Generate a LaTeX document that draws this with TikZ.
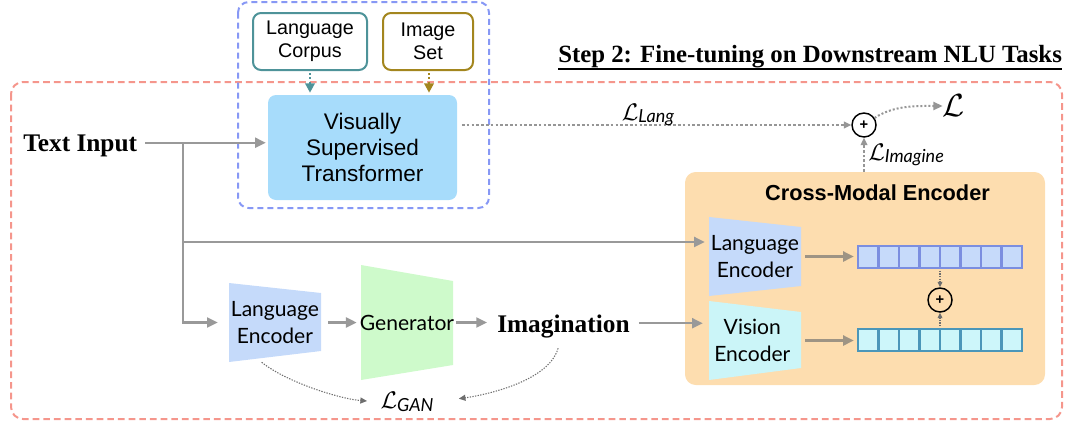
\RequirePackage{fix-cm}
\documentclass[tikz,border=0pt]{standalone}
\usepackage{fontspec}
\setmainfont{Liberation Serif}
\newfontfamily\hv{Liberation Sans}
\newfontfamily\lt{Lato}
\usetikzlibrary{arrows.meta}

\definecolor{redd}{RGB}{245,150,140}
\definecolor{blued}{RGB}{135,152,245}
\definecolor{tealc}{RGB}{78,147,153}
\definecolor{goldc}{RGB}{163,134,30}
\definecolor{vstfill}{RGB}{167,220,251}
\definecolor{cmfill}{RGB}{253,221,175}
\definecolor{lefill}{RGB}{197,218,250}
\definecolor{vefill}{RGB}{203,245,248}
\definecolor{genfill}{RGB}{206,250,203}
\definecolor{arrgray}{RGB}{153,153,153}
\definecolor{arrbrown}{RGB}{158,148,132}
\definecolor{rowLs}{RGB}{123,142,224}
\definecolor{rowLf}{RGB}{198,218,250}
\definecolor{rowVs}{RGB}{75,150,185}
\definecolor{rowVf}{RGB}{205,246,250}
\definecolor{dotgray}{RGB}{150,150,150}
\definecolor{dotdark}{RGB}{110,110,110}

\newcommand\thickul[1]{\leavevmode\setbox0=\hbox{#1}\rlap{\copy0}\raisebox{-6pt}{\rule{\wd0}{1.2pt}}}

\begin{document}
\begin{tikzpicture}[x=0.75pt,y=-0.75pt,
  reddash/.style={draw=redd, line width=1.5pt, dash pattern=on 5pt off 3pt, rounded corners=9pt},
  bluedash/.style={draw=blued, line width=1.5pt, dash pattern=on 4.5pt off 3pt, rounded corners=8pt},
  srcbox/.style={draw, fill=white, line width=1.5pt, rounded corners=6pt, font=\hv\fontsize{14.8}{17.25}\selectfont, align=center, inner sep=0},
  vstbox/.style={fill=vstfill, rounded corners=6pt, font=\hv\fontsize{16.9}{19.5}\selectfont, align=center, inner sep=0},
  enc/.style={font=\lt\fontsize{15.8}{20.6}\selectfont, align=center, inner sep=0},
  serifb/.style={font=\fontsize{19}{22}\selectfont\bfseries, inner sep=0, text depth=0pt},
  plus/.style={circle, draw=black, line width=1.1pt, minimum size=18pt, inner sep=0, font=\hv\bfseries\fontsize{11}{11}\selectfont},
  garrow/.style={draw=arrgray, line width=1.6pt, -{Triangle[length=8pt,width=7.5pt]}},
  barrow/.style={draw=arrbrown, line width=1.6pt, -{Triangle[length=8pt,width=7.5pt]}},
  srcarrow/.style={line width=2pt, dash pattern=on 1.6pt off 1.6pt, -{Triangle[length=7pt,width=7pt]}},
  dotline/.style={draw=dotgray, line width=1pt, dash pattern=on 2pt off 1.6pt, -{Triangle[length=5.5pt,width=5pt]}},
  dotcurve/.style={draw=dotgray, line width=1.5pt, dash pattern=on 1.5pt off 1.5pt, -{Triangle[length=7pt,width=6pt]}},
  gancurve/.style={draw=dotdark, line width=0.8pt, dash pattern=on 1pt off 1pt, -{Triangle[length=5pt,width=4.5pt]}},
  smalldot/.style={draw=dotdark, line width=0.8pt, dash pattern=on 1pt off 1pt, -{Triangle[length=4pt,width=3.5pt]}},
  losslab/.style={inner sep=0}
]
\useasboundingbox (0,0) rectangle (1073,425);

% frames
\draw[reddash] (11,82) rectangle (1062,419);
\draw[bluedash] (238,2) rectangle (489,208);

% title
\node[font=\fontsize{18.6}{22}\selectfont\bfseries, anchor=base west, inner sep=0] (title) at (558,62) {\thickul{Step 2: Fine-tuning on Downstream NLU Tasks}};

% pretraining sources
\node[srcbox, draw=tealc, minimum width=85.5pt, minimum height=42.75pt] (LC) at (310,41.5) {Language\\Corpus};
\node[srcbox, draw=goldc, minimum width=67.5pt, minimum height=42.75pt] (IS) at (428,41.5) {Image\\Set};
\node[vstbox, minimum width=141.75pt, minimum height=78.75pt] (VST) at (362.5,147.5) {Visually\\Supervised\\Transformer};
\draw[srcarrow, draw=tealc, tealc, shorten <=1.5pt, shorten >=1.5pt] (LC.south) -- (LC.south |- VST.north);
\draw[srcarrow, draw=goldc, goldc, shorten <=1.5pt, shorten >=1.5pt] ([xshift=0.75pt]IS.south) -- ([xshift=0.75pt]IS.south |- VST.north);

% text input
\node[serifb, anchor=base west] (tin) at (23,151) {Text Input};
\draw[garrow, shorten <=6pt, shorten >=1.5pt] (tin.east) -- (tin.east -| VST.west);
\coordinate (brx) at (183,0);
\coordinate (br) at (brx |- tin.east);

% cross-modal encoder
\node[fill=cmfill, rounded corners=8pt, minimum width=270pt, minimum height=159.75pt, inner sep=0] (cme) at (865,278.5) {};
\node[font=\hv\bfseries\fontsize{16.3}{19}\selectfont, inner sep=0] (cmt) at (877.5,193) {Cross-Modal Encoder};

% trapezoid shapes
\fill[lefill] (229,283) -- (321,293) -- (321,351) -- (229,362) -- cycle;
\fill[genfill] (361,265) -- (453,281) -- (453,365) -- (361,380) -- cycle;
\fill[lefill] (709,217) -- (801,227) -- (801,286) -- (709,296) -- cycle;
\fill[vefill] (709,301) -- (801,312) -- (801,368) -- (709,380) -- cycle;

\node[enc, minimum width=69pt, minimum height=59.25pt] (LE) at (275,322.5) {Language\\Encoder};
\node[enc, minimum width=69pt, minimum height=86.25pt] (Gen) at (407,322.5) {Generator};
\node[enc, minimum width=69pt, minimum height=59.25pt] (CLE) at (755,256.5) {Language\\Encoder};
\node[enc, minimum width=69pt, minimum height=59.25pt] (VE) at (755,340.5) {\hspace*{-4pt}Vision\\\hspace*{-4pt}Encoder};

\node[serifb, anchor=base west] (imag) at (497,332) {Imagination};

% main flow
\draw[garrow, shorten >=3pt] (br) |- ([yshift=10.9pt]CLE.west);
\draw[garrow, shorten >=8.25pt] (br) |- (LE.west);
\draw[garrow, shorten <=5.25pt, shorten >=2.25pt] (LE.east) -- (Gen.west);
\draw[garrow, shorten <=1.5pt, shorten >=7.5pt] (Gen.east) -- (Gen.east -| imag.west);
\draw[garrow, shorten <=6.75pt, shorten >=4.5pt] (imag.east) -- (imag.east -| VE.west);

% token rows
\node[draw=rowLs, fill=rowLf, line width=1.8pt, minimum width=123pt, minimum height=16.5pt, inner sep=0] (rowL) at (940,257) {};
\node[draw=rowVs, fill=rowVf, line width=1.8pt, minimum width=123pt, minimum height=16.5pt, inner sep=0] (rowV) at (940,340) {};
\foreach \i in {1,...,7} {
  \draw[rowLs, line width=1.8pt] (858+\i*20.5,246) -- (858+\i*20.5,268);
  \draw[rowVs, line width=1.8pt] (858+\i*20.5,329) -- (858+\i*20.5,351);
}
\draw[barrow, shorten <=3pt, shorten >=2.25pt] (CLE.east) -- (CLE.east -| rowL.west);
\draw[barrow, shorten <=3pt, shorten >=2.25pt] (VE.east) -- (VE.east -| rowV.west);

\node[plus] (p2) at (940,300) {+};
\draw[smalldot, shorten <=1pt] (rowL.south) -- (p2.north);
\draw[smalldot, shorten <=1pt] (rowV.north) -- (p2.south);

% losses
\node[plus] (p1) at (864,125) {+};
\draw[dotline, shorten <=3.5pt] (VST.east |- p1.west) -- (p1.west);
\node[losslab] (llang) at (648,115) {{\fontsize{18}{20}\selectfont$\mathcal{L}$}\raisebox{-2pt}{\lt\itshape\fontsize{13.5}{14}\selectfont Lang}};
\draw[dotline] (cme.north -| p1.south) -- (p1.south);
\node[losslab, anchor=west] (limg) at (868,155) {{\fontsize{18}{20}\selectfont$\mathcal{L}$}\raisebox{-2pt}{\lt\itshape\fontsize{13.5}{14}\selectfont Imagine}};
\node[inner sep=0] (Lbig) at (954,106) {\fontsize{24}{26}\selectfont$\mathcal{L}$};
\draw[dotcurve] (p1) .. controls +(30,-20) and +(-25,0) .. (Lbig.west);

\node[losslab] (lgan) at (407,402) {{\fontsize{18}{20}\selectfont$\mathcal{L}$}\raisebox{-2pt}{\lt\itshape\fontsize{13.5}{14}\selectfont GAN}};
\draw[gancurve, shorten >=10pt] ([xshift=-10pt]LE.south) .. controls +(25,20) and +(-40,-3) .. (lgan.west);
\draw[gancurve, shorten >=19pt] ([xshift=-4pt,yshift=-12pt]imag.south) .. controls +(-10,35) and +(45,-6) .. (lgan.east);
\end{tikzpicture}
\end{document}
